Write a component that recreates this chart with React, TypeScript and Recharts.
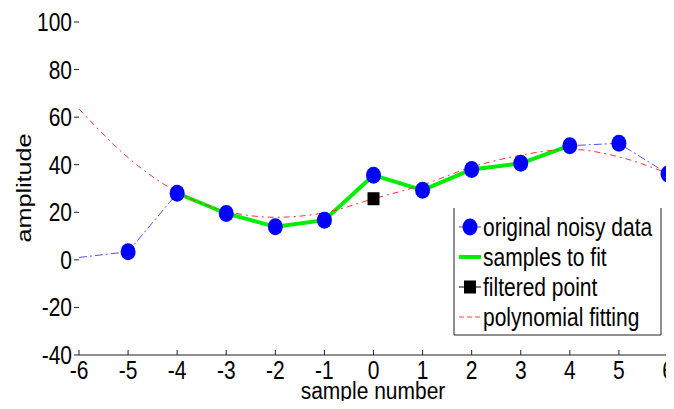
import {
    ComposedChart,
    Line,
    XAxis,
    YAxis,
    Label,
} from "recharts";

const SAMPLE_X = [-6, -5, -4, -3, -2, -1, 0, 1, 2, 3, 4, 5, 6];
const NOISY = [1, 3.4, 28, 19.5, 13.9, 16.7, 35.6, 29.3, 38, 40.6, 48, 49, 36.1];
const FIT = [63.5, 43, 28.5, 20.5, 17.9, 19.8, 25.7, 31.5, 39, 44, 46.5, 43.3, 36.3];
const FIT_WINDOW = [-4, 4];
const FILTERED_X = 0;
const FILTERED_Y = 25.7;
const X_TICKS = [-6, -5, -4, -3, -2, -1, 0, 1, 2, 3, 4, 5, 6];
const Y_TICKS = [-40, -20, 0, 20, 40, 60, 80, 100];

const FONT = "'Liberation Sans', Arial, sans-serif";
const FS = 21;
const SY = 1.2;

const rows = SAMPLE_X.map((x, i) => ({
    x,
    noisy: NOISY[i],
    fit: FIT[i],
    sample: x >= FIT_WINDOW[0] && x <= FIT_WINDOW[1] ? NOISY[i] : null,
    filtered: x === FILTERED_X ? FILTERED_Y : null,
}));

function XTick(props: any) {
    const { x, y, payload } = props;
    return (
        <g>
            <line x1={x} y1={y} x2={x} y2={y - 5} stroke="#222" />
            <text
                transform={`translate(${x},${y + 24}) scale(1,${SY})`}
                textAnchor="middle"
                fontSize={FS}
                fontFamily={FONT}
                fill="#000"
            >
                {payload.value}
            </text>
        </g>
    );
}

function YTick(props: any) {
    const { x, y, payload } = props;
    return (
        <text
            transform={`translate(${x},${y + 9}) scale(1,${SY})`}
            textAnchor="end"
            fontSize={FS}
            fontFamily={FONT}
            fill="#000"
        >
            {payload.value}
        </text>
    );
}

function NoisyDot(props: any) {
    const { cx, cy, payload } = props;
    if (payload.x === SAMPLE_X[0] || cy == null) return <g key={`d${payload.x}`} />;
    return <ellipse key={`d${payload.x}`} cx={cx} cy={cy} rx={7.5} ry={8.5} fill="#0000ff" />;
}

function SquareDot(props: any) {
    const { cx, cy, payload } = props;
    if (payload.filtered == null) return <g key={`s${payload.x}`} />;
    return <rect key={`s${payload.x}`} x={cx - 6} y={cy - 6.5} width={12} height={13} fill="#000" />;
}

function Legendbox() {
    const rowsY = [227, 257, 287, 317];
    const items = ["original noisy data", "samples to fit", "filtered point", "polynomial fitting"];
    return (
        <svg
            width={674}
            height={409}
            style={{ position: "absolute", left: 0, top: 0, pointerEvents: "none" }}
        >
            <polyline points="454,208 454,335 661,335 661,208" fill="none" stroke="#222" />
            <line x1={459} y1={rowsY[0]} x2={481} y2={rowsY[0]} stroke="#4040ff" />
            <ellipse cx={470} cy={rowsY[0]} rx={7.5} ry={8.5} fill="#0000ff" />
            <line x1={459} y1={rowsY[1]} x2={481} y2={rowsY[1]} stroke="#00ee00" strokeWidth={4} />
            <line x1={459} y1={rowsY[2]} x2={481} y2={rowsY[2]} stroke="#000" />
            <rect x={464} y={rowsY[2] - 6.5} width={12} height={13} fill="#000" />
            <line x1={459} y1={rowsY[3]} x2={481} y2={rowsY[3]} stroke="#ff4040" strokeDasharray="5 3" />
            {items.map((t, i) => (
                <text
                    key={t}
                    transform={`translate(483,${rowsY[i] + 9}) scale(1,${SY})`}
                    fontSize={FS}
                    fontFamily={FONT}
                    fill="#000"
                >
                    {t}
                </text>
            ))}
        </svg>
    );
}

export default function App() {
    return (
        <div style={{ position: "relative", margin: -8, width: 674, height: 409, background: "#fff" }}>
            <ComposedChart
                width={674}
                height={409}
                data={rows}
                margin={{ top: 22, right: 6, bottom: 0, left: 0 }}
            >
                <XAxis
                    dataKey="x"
                    type="number"
                    domain={[-6, 6]}
                    ticks={X_TICKS}
                    interval={0}
                    height={54}
                    stroke="#222"
                    tickLine={false}
                    tickSize={0}
                    tickMargin={0}
                    tick={<XTick />}
                >
                    <Label
                        content={() => (
                            <text
                                transform={`translate(373,399) scale(1,1.1)`}
                                textAnchor="middle"
                                fontSize={FS}
                                fontFamily={FONT}
                                fill="#000"
                            >
                                sample number
                            </text>
                        )}
                    />
                </XAxis>
                <YAxis
                    type="number"
                    domain={[-40, 100]}
                    ticks={Y_TICKS}
                    interval={0}
                    width={79}
                    axisLine={false}
                    tickLine={{ stroke: "#222" }}
                    tickSize={5}
                    tickMargin={2}
                    tick={<YTick />}
                >
                    <Label
                        content={() => (
                            <text
                                transform={`translate(31,188) rotate(-90) scale(${SY},1)`}
                                textAnchor="middle"
                                fontSize={FS}
                                fontFamily={FONT}
                                fill="#000"
                            >
                                amplitude
                            </text>
                        )}
                    />
                </YAxis>
                <Line
                    dataKey="noisy"
                    stroke="#5050ff"
                    strokeWidth={1}
                    strokeDasharray="8 3 2 3"
                    dot={false}
                    isAnimationActive={false}
                />
                <Line
                    dataKey="sample"
                    stroke="#00ee00"
                    strokeWidth={4}
                    dot={false}
                    connectNulls={false}
                    isAnimationActive={false}
                />
                <Line
                    type="monotone"
                    dataKey="fit"
                    stroke="#ff3030"
                    strokeWidth={1}
                    strokeDasharray="6 4 2 4"
                    dot={false}
                    isAnimationActive={false}
                />
                <Line
                    dataKey="noisy"
                    stroke="none"
                    dot={<NoisyDot />}
                    activeDot={false}
                    isAnimationActive={false}
                />
                <Line
                    dataKey="filtered"
                    stroke="none"
                    dot={<SquareDot />}
                    activeDot={false}
                    isAnimationActive={false}
                />
            </ComposedChart>
            <Legendbox />
        </div>
    );
}
